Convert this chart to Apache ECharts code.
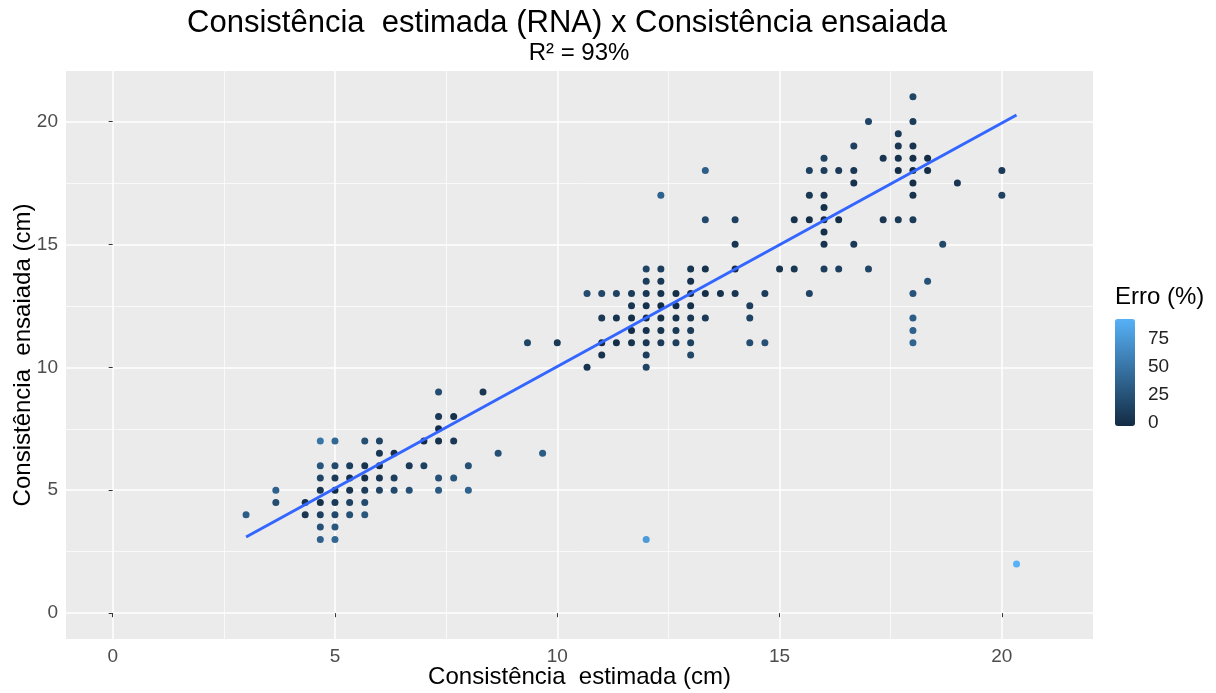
<!DOCTYPE html>
<html>
<head>
<meta charset="utf-8">
<script src="https://cdn.jsdelivr.net/npm/echarts@6/dist/echarts.min.js"></script>
<style>
  html, body { margin: 0; padding: 0; background: #fff; }
  #chart { width: 1216px; height: 693px; }
</style>
</head>
<body>
<div id="chart"></div>
<script>
// ensaiada (y) levels and, for each, the estimada (x) values
var ensaiadaLevels = [21, 20, 19.5, 19, 18.5, 18, 17.5, 17, 16.5, 16, 15.5, 15, 14, 13.5, 13, 12.5, 12, 11.5, 11, 10.5, 10, 9, 8, 7.5, 7, 6.5, 6, 5.5, 5, 4.5, 4, 3.5, 3, 2];
var estimadaByLevel = [
  [18],
  [17, 18],
  [17.67],
  [16.67, 17.67, 18],
  [16, 17.33, 17.67, 18, 18.33],
  [13.33, 15.67, 16, 16.33, 16.67, 17.67, 18, 18.33, 20],
  [16.67, 18, 19],
  [12.33, 15.67, 16, 18, 20],
  [16],
  [13.33, 14, 15.33, 15.67, 16, 16.33, 17.33, 17.67, 18],
  [16],
  [14, 16, 16.67, 18.67],
  [12, 12.33, 13, 13.33, 14, 15, 15.33, 16, 16.33, 17],
  [12, 12.33, 13, 18.33],
  [10.67, 11, 11.33, 11.67, 12, 12.33, 12.67, 13, 13.33, 13.67, 14, 14.67, 15.67, 18],
  [11.67, 12, 12.33, 12.67, 13, 14.33],
  [11, 11.33, 11.67, 12, 12.33, 12.67, 13, 13.33, 14.33, 18],
  [11.67, 12, 12.33, 12.67, 13, 18],
  [9.33, 10, 11, 11.33, 11.67, 12, 12.33, 12.67, 13, 14.33, 14.67, 18],
  [11, 12, 13],
  [10.67, 12],
  [7.33, 8.33],
  [7.33, 7.67],
  [7.33],
  [4.67, 5, 5.67, 6, 7, 7.33, 7.67],
  [6, 6.33, 8.67, 9.67],
  [4.67, 5, 5.33, 5.67, 6, 6.67, 7, 8],
  [4.67, 5, 5.33, 5.67, 6, 6.33, 7.33, 7.67],
  [3.67, 4.67, 5, 5.33, 5.67, 6, 6.33, 6.67, 7.33, 8],
  [3.67, 4.33, 4.67, 5, 5.33, 5.67],
  [3, 4.33, 4.67, 5, 5.33, 5.67],
  [4.67, 5],
  [4.67, 5, 12],
  [20.33]
];
// fitted line (geom_smooth lm) end points
var ajusteX = [3, 20.33];
var ajusteY = [3.1, 20.26];
var axisTicks = [0, 5, 10, 15, 20];
var minorTicks = [2.5, 7.5, 12.5, 17.5];
var erroTicks = [0, 25, 50, 75];

var pontos = [];
ensaiadaLevels.forEach(function (y, i) {
  estimadaByLevel[i].forEach(function (x) {
    // Erro (%) relativo ao valor estimado
    pontos.push([x, y, Math.abs(x - y) / x * 100]);
  });
});

var chart = echarts.init(document.getElementById('chart'));
var fonte = '"Liberation Sans", Arial, sans-serif';

function eixoPrincipal(nome, gap, pos) {
  return {
    type: 'value', gridIndex: 0, min: -1.05, max: 22.05, position: pos,
    name: nome, nameLocation: 'middle', nameGap: gap, nameMoveOverlap: false,
    nameTextStyle: { fontSize: 24, color: '#000' },
    axisLine: { show: false },
    axisTick: { show: true, length: 4, customValues: axisTicks, lineStyle: { color: '#333' } },
    axisLabel: { fontSize: 19, color: '#4D4D4D', margin: 8, customValues: axisTicks },
    splitLine: { show: true, lineStyle: { color: '#fff', width: 1.5 } }
  };
}
function eixoMenor(pos) {
  return {
    type: 'value', gridIndex: 0, min: -1.05, max: 22.05, position: pos,
    axisLine: { show: false },
    axisTick: { show: false, customValues: minorTicks },
    axisLabel: { show: false, customValues: minorTicks },
    splitLine: { show: true, lineStyle: { color: '#fff', width: 0.7 } }
  };
}

var option = {
  animation: false,
  backgroundColor: '#ffffff',
  textStyle: { fontFamily: fonte },
  graphic: [
    { type: 'text', x: 567, y: 23, style: { text: 'Consistência  estimada (RNA) x Consistência ensaiada', font: '31px ' + fonte, fill: '#000', align: 'center', verticalAlign: 'middle' } },
    { type: 'text', x: 579, y: 53, style: { text: 'R² = 93%', font: '24px ' + fonte, fill: '#000', align: 'center', verticalAlign: 'middle' } },
    { type: 'text', x: 1115, y: 297, style: { text: 'Erro (%)', font: '24px ' + fonte, fill: '#000', align: 'left', verticalAlign: 'middle' } }
  ],
  grid: [
    { left: 66, right: 123, top: 71, bottom: 54, show: true, backgroundColor: '#EBEBEB', borderWidth: 0, outerBoundsMode: 'none' },
    { left: 1115, top: 319, width: 20, height: 104, outerBoundsMode: 'none' }
  ],
  xAxis: [
    eixoMenor('bottom'),
    eixoPrincipal('Consistência  estimada (cm)', 26, 'bottom'),
    { type: 'category', gridIndex: 1, data: [''], show: false }
  ],
  yAxis: [
    eixoMenor('left'),
    eixoPrincipal('Consistência  ensaiada (cm)', 31, 'left'),
    {
      type: 'value', gridIndex: 1, min: 0, max: 93, interval: 25, position: 'right',
      axisLine: { show: false }, axisTick: { show: false }, splitLine: { show: false },
      axisLabel: { fontSize: 19, color: '#222', margin: 13, customValues: erroTicks }
    }
  ],
  visualMap: {
    type: 'continuous', seriesIndex: 0, dimension: 2, min: 0, max: 90,
    left: 1115, top: 319, itemWidth: 20, itemHeight: 107, padding: 0,
    calculable: false, showLabel: false, text: null,
    inRange: { color: ['#132B43', '#56B1F7'] }
  },
  series: [
    {
      type: 'scatter', xAxisIndex: 1, yAxisIndex: 1, data: pontos,
      symbolSize: 7, itemStyle: { opacity: 1 }, z: 2
    },
    {
      type: 'line', xAxisIndex: 1, yAxisIndex: 1,
      data: ajusteX.map(function (x, i) { return [x, ajusteY[i]]; }),
      symbol: 'none', lineStyle: { color: '#3366FF', width: 3 }, z: 3
    }
  ]
};
chart.setOption(option);
</script>
</body>
</html>
